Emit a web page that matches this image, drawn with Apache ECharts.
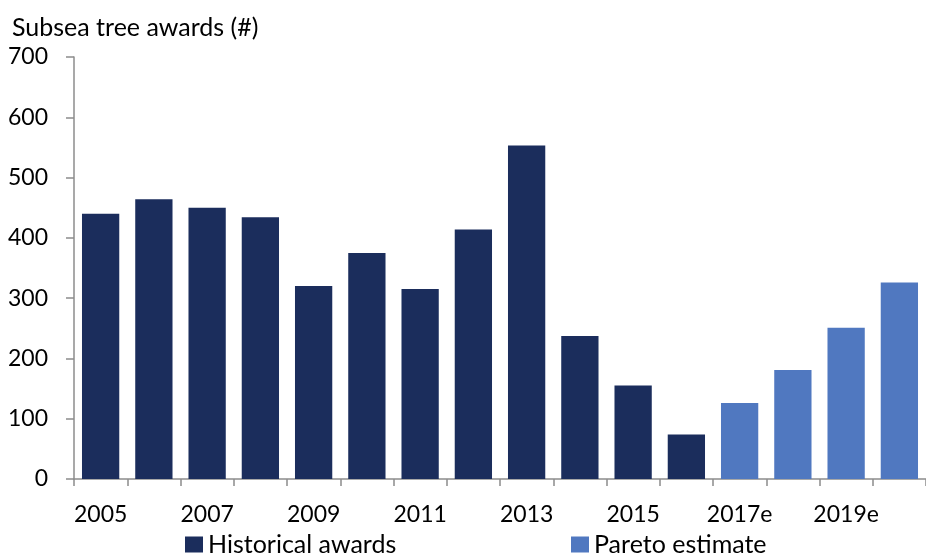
<!DOCTYPE html>
<html>
<head>
<meta charset="utf-8">
<script src="https://cdn.jsdelivr.net/npm/echarts@6/dist/echarts.min.js"></script>
<style>
  html, body { margin: 0; padding: 0; background: #ffffff; }
  #chart { width: 926px; height: 556px; }
</style>
</head>
<body>
<div id="chart"></div>
<script>
// Years on the category axis
const years = ['2005', '2006', '2007', '2008', '2009', '2010', '2011', '2012',
  '2013', '2014', '2015', '2016', '2017e', '2018e', '2019e', '2020e'];
// Subsea tree awards, recorded history
const historicalAwards = [440, 464, 450, 434, 320, 375, 315, 414, 553, 237, 155, 74,
  null, null, null, null];
// Subsea tree awards, forecast years
const paretoEstimate = [null, null, null, null, null, null, null, null, null, null, null, null,
  126, 181, 251, 326];
// Value axis ticks
const yTicks = [0, 100, 200, 300, 400, 500, 600, 700];

const FONT = 'Lato';
const TEXT_SIZE = 25;
const NUM_SIZE = 23;
const chart = echarts.init(document.getElementById('chart'), null, { renderer: 'canvas' });

const legendText = { fontFamily: FONT, fontSize: TEXT_SIZE, color: '#000000', lineHeight: 25 };

chart.setOption({
  animation: false,
  backgroundColor: '#ffffff',
  textStyle: { fontFamily: FONT, color: '#000000' },
  title: {
    text: 'Subsea tree awards (#)',
    left: 12,
    top: 15,
    padding: 0,
    textStyle: { fontFamily: FONT, fontSize: TEXT_SIZE, fontWeight: 'normal', color: '#000000' }
  },
  legend: [
    {
      data: ['Historical awards'],
      left: 185, top: 532, padding: 0,
      icon: 'rect', itemWidth: 18, itemHeight: 16,
      textStyle: legendText
    },
    {
      data: ['Pareto estimate'],
      left: 571, top: 532, padding: 0,
      icon: 'rect', itemWidth: 18, itemHeight: 16,
      textStyle: legendText
    }
  ],
  grid: { left: 74, right: -8, top: 57, bottom: 77, containLabel: false },
  xAxis: {
    type: 'category',
    data: years,
    boundaryGap: true,
    axisLine: { show: true, lineStyle: { color: '#8c8c8c', width: 1.5 } },
    axisTick: { show: true, interval: 0, length: 7, lineStyle: { color: '#8c8c8c', width: 1.5 } },
    axisLabel: {
      interval: 1, margin: 24,
      fontFamily: FONT, fontSize: NUM_SIZE, color: '#000000'
    },
    splitLine: { show: false }
  },
  yAxis: {
    type: 'value',
    min: yTicks[0],
    max: yTicks[yTicks.length - 1],
    interval: yTicks[1] - yTicks[0],
    axisLine: { show: true, lineStyle: { color: '#8c8c8c', width: 1.5 } },
    axisTick: { show: true, length: 8, lineStyle: { color: '#8c8c8c', width: 1.5 } },
    axisLabel: { margin: 26, fontFamily: FONT, fontSize: NUM_SIZE, color: '#000000' },
    splitLine: { show: false }
  },
  series: [
    {
      name: 'Historical awards',
      type: 'bar',
      data: historicalAwards,
      barWidth: '70%',
      barGap: '-100%',
      itemStyle: { color: '#1b2d5c' }
    },
    {
      name: 'Pareto estimate',
      type: 'bar',
      data: paretoEstimate,
      barWidth: '70%',
      barGap: '-100%',
      itemStyle: { color: '#5078c0' }
    }
  ]
});
</script>
</body>
</html>
